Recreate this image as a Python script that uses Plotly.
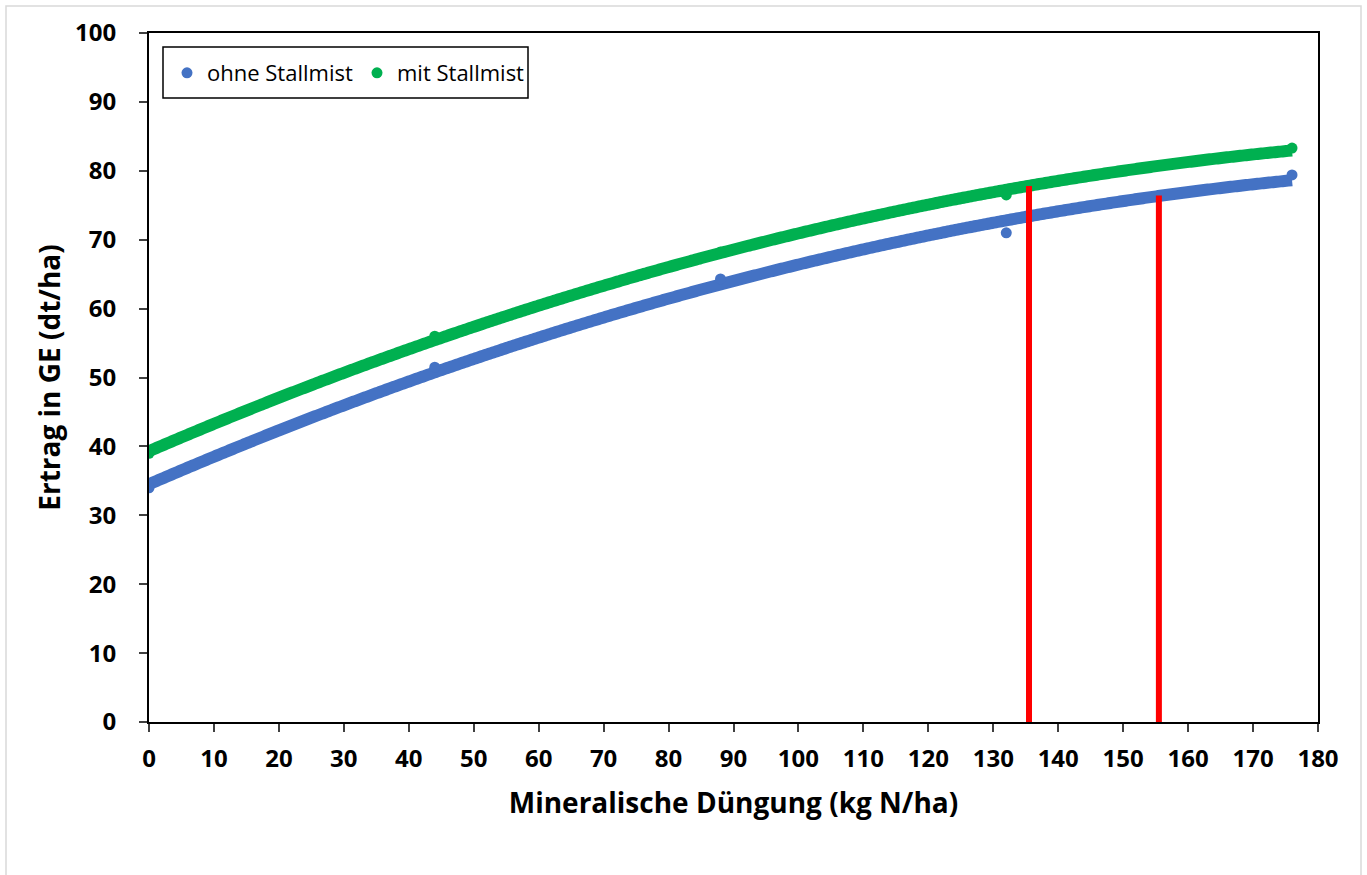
import numpy as np
import plotly.graph_objects as go

# Data
n_dose = [0, 44, 88, 132, 176]
ohne_stallmist = [34.0, 51.5, 64.3, 71.0, 79.4]
mit_stallmist = [39.0, 56.0, 68.2, 76.5, 83.3]
red_x = [135.5, 155.5]
red_top = [77.8, 76.4]
x_ticks = list(range(0, 181, 10))
y_ticks = list(range(0, 101, 10))

BLUE = "#4472C4"
GREEN = "#00B050"
FONT = "Open Sans"

fig = go.Figure()

# Quadratic trend lines (fit to data, like Excel polynomial trendline)
xs = np.linspace(min(n_dose), max(n_dose), 300)
for vals, col in [(ohne_stallmist, BLUE), (mit_stallmist, GREEN)]:
    coef = np.polyfit(n_dose, vals, 2)
    fig.add_trace(go.Scatter(x=xs, y=np.polyval(coef, xs), mode="lines",
                             line=dict(color=col, width=12, simplify=False, shape="spline"),
                             showlegend=False, hoverinfo="skip"))

fig.add_trace(go.Scatter(x=n_dose, y=ohne_stallmist, mode="markers", name="ohne Stallmist",
                         marker=dict(color=BLUE, size=11)))
fig.add_trace(go.Scatter(x=n_dose, y=mit_stallmist, mode="markers", name="mit Stallmist",
                         marker=dict(color=GREEN, size=11)))

# Red vertical lines
rx, ry = [], []
for xv, yt in zip(red_x, red_top):
    rx += [xv, xv, None]
    ry += [0, yt, None]
fig.add_trace(go.Scatter(x=rx, y=ry, mode="lines", line=dict(color="#FF0000", width=6),
                         showlegend=False, hoverinfo="skip"))

axis_common = dict(showgrid=False, zeroline=False, showline=True, linecolor="black",
                   linewidth=2, mirror=True, ticks="outside", ticklen=8, tickwidth=2,
                   tickcolor="#404040",
                   tickfont=dict(family=FONT, size=24, color="black", weight="bold"))

fig.update_xaxes(range=[0, 180], tickvals=x_ticks, ticklabelstandoff=6, **axis_common,
                 title=dict(text="Mineralische Düngung (kg N/ha)", standoff=21,
                            font=dict(family=FONT, size=28, color="black", weight="bold")))
fig.update_yaxes(range=[0, 100], tickvals=y_ticks, ticklabelstandoff=18, **axis_common,
                 title=dict(text="Ertrag in GE (dt/ha)", standoff=6,
                            font=dict(family=FONT, size=28, color="black", weight="bold")))

# Legend box (px -> paper coordinates; plot area 149..1318 x, 33..722 y)
def px_x(p):
    return (p - 149) / 1169.0

def px_y(p):
    return (722 - p) / 689.0

fig.update_layout(
    width=1367, height=875,
    margin=dict(l=149, r=49, t=33, b=153),
    plot_bgcolor="white", paper_bgcolor="white",
    font=dict(family=FONT, color="black"),
    legend=dict(x=px_x(167), y=px_y(73), xanchor="left", yanchor="middle", orientation="h",
                borderwidth=0, bgcolor="rgba(0,0,0,0)",
                font=dict(family=FONT, size=22, color="black"),
                itemwidth=30, entrywidth=145),
    shapes=[
        dict(type="rect", xref="paper", yref="paper", x0=px_x(6), x1=px_x(1361),
             y0=px_y(900), y1=px_y(6), line=dict(color="#D9D9D9", width=1.5), layer="below"),
        dict(type="rect", xref="paper", yref="paper", x0=px_x(163), x1=px_x(528),
             y0=px_y(98), y1=px_y(47), line=dict(color="black", width=1.5),
             fillcolor="white", layer="below"),
    ],
)

fig.write_html("out.html", config={"displayModeBar": False},
               post_script="document.body.style.margin='0';")
